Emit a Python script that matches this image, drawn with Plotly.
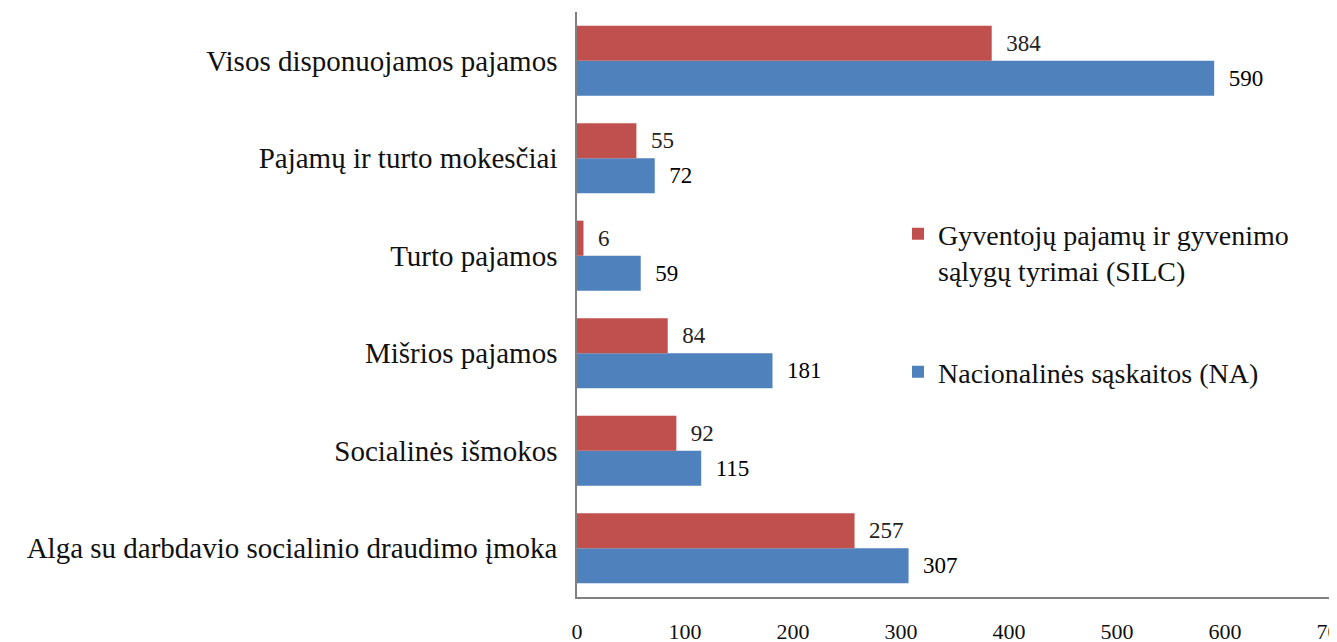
import plotly.graph_objects as go

categories = [
    "Alga su darbdavio socialinio draudimo įmoka",
    "Socialinės išmokos",
    "Mišrios pajamos",
    "Turto pajamos",
    "Pajamų ir turto mokesčiai",
    "Visos disponuojamos pajamos",
]
silc_values = [257, 92, 84, 6, 55, 384]
na_values = [307, 115, 181, 59, 72, 590]
silc_name = "Gyventojų pajamų ir gyvenimo<br>sąlygų tyrimai (SILC)"
na_name = "Nacionalinės sąskaitos (NA)"
x_ticks = [0, 100, 200, 300, 400, 500, 600, 700]

FONT = "Liberation Serif, Times New Roman, serif"
PAD = "\u00a0\u00a0"

fig = go.Figure()
fig.add_trace(go.Bar(
    y=categories, x=na_values, orientation="h", name=na_name,
    marker=dict(color="#4F81BD", line=dict(width=0)),
    text=[PAD + str(v) for v in na_values], textposition="outside",
    textfont=dict(family=FONT, size=23, color="#000000"),
    cliponaxis=False, legendrank=2, legendgroup="na",
))
fig.add_trace(go.Bar(
    y=categories, x=silc_values, orientation="h", name=silc_name,
    marker=dict(color="#C0504D", line=dict(width=0)),
    text=[PAD + str(v) for v in silc_values], textposition="outside",
    textfont=dict(family=FONT, size=23, color="#222222"),
    cliponaxis=False, legendrank=1, legendgroup="silc",
))

# page has an 8px body margin; plot area targeted at page x 577-1333, y 12-597
fig.update_layout(
    width=1337, height=642,
    barmode="group", bargap=0.28, bargroupgap=0,
    plot_bgcolor="white", paper_bgcolor="white",
    margin=dict(l=569, r=12, t=4, b=53, autoexpand=False),
    font=dict(family=FONT, size=28, color="#111111"),
    showlegend=True,
    legend=dict(
        x=0.4246, y=0.663, xanchor="left", yanchor="top",
        font=dict(family=FONT, size=28, color="#111111"),
        tracegroupgap=62, itemwidth=30, valign="top",
        bgcolor="rgba(0,0,0,0)",
    ),
)
fig.update_xaxes(
    range=[0, 700], tickvals=x_ticks, ticktext=[str(t) for t in x_ticks],
    showgrid=False, zeroline=False, showline=True, linecolor="#808080", linewidth=1.5,
    ticks="outside", ticklen=14, tickcolor="rgba(0,0,0,0)",
    tickfont=dict(family=FONT, size=22, color="#111111"),
    ticklabeloverflow="allow", automargin=False,
)
fig.update_yaxes(
    showgrid=False, zeroline=False, showline=True, linecolor="#808080", linewidth=1.5,
    ticks="outside", ticklen=12, tickcolor="rgba(0,0,0,0)",
    tickfont=dict(family=FONT, size=29, color="#111111"),
    automargin=False,
)

fig.write_html("out.html")
